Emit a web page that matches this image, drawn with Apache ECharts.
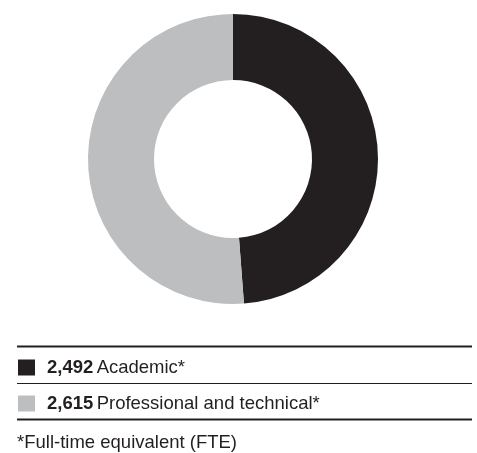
<!DOCTYPE html>
<html>
<head>
<meta charset="utf-8">
<style>
html,body{margin:0;padding:0;background:#fff;}
#chart{width:477px;height:453px;}
</style>
<script src="https://cdn.jsdelivr.net/npm/echarts@6/dist/echarts.min.js"></script>
</head>
<body>
<div id="chart"></div>
<script>
var categories = ['Academic*', 'Professional and technical*'];
var values = [2492, 2615];
var colors = ['#231f20', '#bcbec0'];
var footnote = '*Full-time equivalent (FTE)';

function fmt(n){ return n.toString().replace(/\B(?=(\d{3})+(?!\d))/g, ','); }

var chart = echarts.init(document.getElementById('chart'));
var FONT = '"Liberation Sans", Arial, Helvetica, sans-serif';
chart.setOption({
  animation: false,
  color: colors,
  legend: {
    orient: 'vertical',
    left: 18,
    top: 358,
    padding: 0,
    itemWidth: 17,
    itemHeight: 16,
    itemGap: 17,
    icon: 'rect',
    selectedMode: false,
    data: categories,
    formatter: function(name){
      var i = categories.indexOf(name);
      return '{b|' + fmt(values[i]) + '} {n|' + name + '}';
    },
    textStyle: {
      padding: [0,0,0,7],
      lineHeight: 16,
      rich: {
        b: {fontFamily: FONT, fontSize: 18.5, fontWeight: 'bold', color: '#231f20', lineHeight: 16},
        n: {fontFamily: FONT, fontSize: 18.5, color: '#231f20', lineHeight: 16}
      }
    }
  },
  graphic: [
    {type: 'line', shape: {x1: 17, y1: 346.5, x2: 472, y2: 346.5}, style: {stroke: '#231f20', lineWidth: 2}},
    {type: 'line', shape: {x1: 17, y1: 383.5, x2: 472, y2: 383.5}, style: {stroke: '#231f20', lineWidth: 1}},
    {type: 'line', shape: {x1: 17, y1: 419.5, x2: 472, y2: 419.5}, style: {stroke: '#231f20', lineWidth: 2}},
    {type: 'text', left: 17, top: 433, style: {text: footnote, fontFamily: FONT, fontSize: 18.5, fill: '#231f20'}}
  ],
  series: [{
    type: 'pie',
    center: [233, 159],
    radius: [79, 145],
    startAngle: 90,
    clockwise: true,
    label: {show: false},
    labelLine: {show: false},
    emphasis: {disabled: true},
    itemStyle: {borderWidth: 0},
    data: categories.map(function(c, i){ return {name: c, value: values[i]}; })
  }]
});
</script>
</body>
</html>
